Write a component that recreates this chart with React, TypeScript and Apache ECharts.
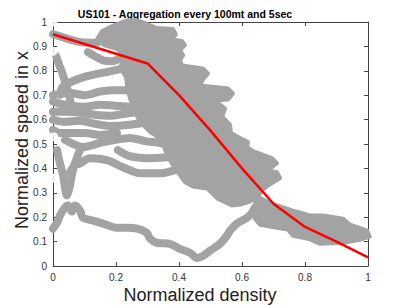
import React, { useEffect, useRef } from 'react';
import * as echarts from 'echarts';

const titleText = 'US101 - Aggregation every 100mt and 5sec';
const xName = 'Normalized density';
const yName = 'Normalized speed in x';

// red fitted curve
const fitLine: number[][] = [
  [0, 0.95], [0.1, 0.91], [0.2, 0.87], [0.3, 0.83], [0.4, 0.70], [0.5, 0.555],
  [0.6, 0.40], [0.7, 0.255], [0.8, 0.16], [0.9, 0.10], [1.0, 0.035],
];

// dense central cloud outline
const blobOutline: number[][] = [
  [0.251, 1.006], [0.276, 1.004], [0.330, 0.975], [0.381, 0.971], [0.390, 0.950], [0.378, 0.930],
  [0.410, 0.921], [0.419, 0.905], [0.403, 0.884], [0.413, 0.864], [0.403, 0.843], [0.410, 0.822],
  [0.476, 0.810], [0.492, 0.789], [0.476, 0.764], [0.467, 0.740], [0.556, 0.727], [0.571, 0.707],
  [0.556, 0.682], [0.514, 0.678], [0.546, 0.645], [0.537, 0.612], [0.562, 0.579], [0.565, 0.545],
  [0.594, 0.525], [0.619, 0.508], [0.616, 0.488], [0.635, 0.471], [0.695, 0.442], [0.711, 0.421],
  [0.695, 0.405], [0.663, 0.397], [0.711, 0.384], [0.721, 0.360], [0.689, 0.335], [0.663, 0.310],
  [0.651, 0.285], [0.625, 0.264], [0.594, 0.252], [0.568, 0.248], [0.521, 0.277], [0.489, 0.318],
  [0.444, 0.326], [0.419, 0.343], [0.387, 0.401], [0.371, 0.434], [0.356, 0.475], [0.346, 0.517],
  [0.308, 0.550], [0.276, 0.591], [0.254, 0.649], [0.238, 0.715], [0.232, 0.773], [0.213, 0.814],
  [0.225, 0.855], [0.206, 0.888], [0.162, 0.905], [0.140, 0.930], [0.156, 0.963], [0.197, 0.988],
  [0.229, 1.004],
];

// high-density band along the lower right
const tailOutline: number[][] = [
  [0.641, 0.289], [0.673, 0.269], [0.711, 0.248], [0.762, 0.227], [0.816, 0.207], [0.857, 0.207],
  [0.921, 0.194], [0.943, 0.169], [0.997, 0.145], [1.006, 0.120], [0.975, 0.107], [0.921, 0.095],
  [0.848, 0.091], [0.810, 0.112], [0.762, 0.124], [0.746, 0.149], [0.711, 0.157], [0.657, 0.169],
  [0.641, 0.194], [0.644, 0.236],
];

const bottomTrack: number[][] = [
  [0, 0.153], [0.013, 0.178], [0.022, 0.207], [0.038, 0.240], [0.048, 0.248], [0.060, 0.223],
  [0.070, 0.248], [0.086, 0.227], [0.095, 0.198], [0.127, 0.186], [0.159, 0.174], [0.203, 0.157],
  [0.235, 0.157], [0.267, 0.153], [0.298, 0.136], [0.308, 0.112], [0.330, 0.095], [0.371, 0.091],
  [0.403, 0.070], [0.435, 0.054], [0.457, 0.033], [0.476, 0.041], [0.498, 0.062], [0.530, 0.091],
  [0.552, 0.124], [0.562, 0.145], [0.584, 0.174], [0.616, 0.198], [0.632, 0.219], [0.641, 0.240],
];
const trackTop: number[][] = [[0, 0.95], [0.03, 0.938], [0.06, 0.926], [0.09, 0.917], [0.14, 0.915]];
const trackA: number[][] = [[0.111, 0.876], [0.133, 0.86], [0.159, 0.843], [0.187, 0.839], [0.213, 0.851], [0.229, 0.86]];
const trackB: number[][] = [[0.01, 0.86], [0.019, 0.826], [0.029, 0.793], [0.038, 0.756], [0.048, 0.715], [0.054, 0.682], [0.06, 0.64]];
const trackC: number[][] = [[0.022, 0.702], [0.032, 0.736], [0.095, 0.773], [0.181, 0.798], [0.254, 0.818]];
const trackD: number[][] = [[0, 0.70], [0.05, 0.71], [0.1, 0.70], [0.15, 0.715], [0.2, 0.72], [0.25, 0.72]];
const trackE: number[][] = [[0, 0.674], [0.022, 0.665], [0.054, 0.657], [0.102, 0.653], [0.149, 0.661], [0.197, 0.657], [0.244, 0.653], [0.292, 0.665]];
const trackF: number[][] = [[0, 0.632], [0.038, 0.632], [0.086, 0.628], [0.133, 0.62], [0.181, 0.616], [0.229, 0.624], [0.276, 0.632]];
const trackG: number[][] = [[0, 0.599], [0.038, 0.591], [0.086, 0.595], [0.133, 0.583], [0.181, 0.574], [0.244, 0.579], [0.308, 0.591]];
const trackH: number[][] = [[0, 0.558], [0.022, 0.545], [0.054, 0.545], [0.102, 0.545], [0.149, 0.537], [0.203, 0.545]];
const trackI: number[][] = [[0.038, 0.517], [0.095, 0.488], [0.149, 0.504], [0.197, 0.517], [0.244, 0.525], [0.292, 0.512], [0.34, 0.504], [0.365, 0.496]];
const trackJ: number[][] = [[0.206, 0.475], [0.244, 0.45], [0.298, 0.442], [0.362, 0.446]];
const trackK: number[][] = [[0.054, 0.384], [0.07, 0.413], [0.086, 0.421], [0.117, 0.442], [0.171, 0.434], [0.222, 0.405], [0.276, 0.38], [0.34, 0.38], [0.387, 0.393]];
const trackL: number[][] = [[0.013, 0.475], [0.022, 0.421], [0.032, 0.372], [0.044, 0.289], [0.054, 0.331], [0.063, 0.393], [0.079, 0.455], [0.086, 0.475]];
const singles: number[][] = [[0, 1.0], [0, 0.88], [0, 0.36], [0.003, 0.53]];

const tracks = [bottomTrack, trackTop, trackA, trackB, trackC, trackD, trackE, trackF, trackG, trackH, trackI, trackJ, trackK, trackL];

const GRAY = '#a3a3a3';
const FONT = 'Liberation Sans, Arial, sans-serif';

export default function App() {
  const ref = useRef<HTMLDivElement>(null);
  useEffect(() => {
    if (!ref.current) return;
    const chart = echarts.init(ref.current, undefined, { renderer: 'svg' });
    const axisCommon = {
      type: 'value' as const,
      min: 0,
      max: 1,
      axisLine: { show: true, onZero: false, lineStyle: { color: '#444', width: 1 } },
      axisTick: { show: true, inside: true, length: 4, lineStyle: { color: '#444' } },
      splitLine: { show: false },
    };
    const polySeries = (pts: number[][]) => ({
      type: 'custom',
      coordinateSystem: 'cartesian2d',
      clip: false,
      silent: true,
      z: 1,
      data: [pts[0]],
      renderItem: (_p: any, api: any) => ({
        type: 'polygon',
        shape: { points: pts.map((p) => api.coord(p)) },
        style: { fill: GRAY, stroke: GRAY, lineWidth: 4, lineJoin: 'round' },
      }),
    });
    chart.setOption({
      animation: false,
      grid: { left: 53, right: 39, top: 22, bottom: 39 },
      xAxis: [
        { ...axisCommon, position: 'bottom', interval: 0.2,
          axisLabel: { color: '#333', fontSize: 10, margin: 6, fontFamily: FONT } },
        { ...axisCommon, position: 'top', interval: 0.2, axisLabel: { show: false } },
      ],
      yAxis: [
        { ...axisCommon, position: 'left', interval: 0.1,
          axisLabel: { color: '#333', fontSize: 10, margin: 6, fontFamily: FONT } },
        { ...axisCommon, position: 'right', interval: 0.1, axisLabel: { show: false } },
      ],
      graphic: [
        { type: 'text', x: 185, y: 14, style: { text: titleText, fontSize: 10.5, fontWeight: 'bold', fontFamily: FONT, fill: '#000', textAlign: 'center', textVerticalAlign: 'middle' } },
        { type: 'text', x: 200, y: 295, style: { text: xName, fontSize: 18, fontFamily: FONT, fill: '#222', textAlign: 'center', textVerticalAlign: 'middle' } },
        { type: 'text', x: 22, y: 140, rotation: Math.PI / 2, style: { text: yName, fontSize: 18, fontFamily: FONT, fill: '#222', textAlign: 'center', textVerticalAlign: 'middle' } },
      ],
      series: [
        polySeries(blobOutline),
        polySeries(tailOutline),
        ...tracks.map((t) => ({
          type: 'line',
          data: t,
          clip: false,
          silent: true,
          z: 2,
          showSymbol: false,
          smooth: 0.3,
          lineStyle: { color: GRAY, width: 8, cap: 'round', join: 'round' },
        })),
        {
          type: 'scatter',
          data: singles,
          clip: false,
          silent: true,
          z: 2,
          symbol: 'emptyCircle',
          symbolSize: 7,
          itemStyle: { color: '#fff', borderColor: GRAY, borderWidth: 2 },
        },
        {
          type: 'line',
          data: fitLine,
          z: 5,
          showSymbol: false,
          silent: true,
          lineStyle: { color: '#ff0000', width: 2.5 },
        },
      ],
    });
    return () => chart.dispose();
  }, []);
  return <div ref={ref} style={{ position: 'absolute', left: 0, top: 0, width: 407, height: 305 }} />;
}
